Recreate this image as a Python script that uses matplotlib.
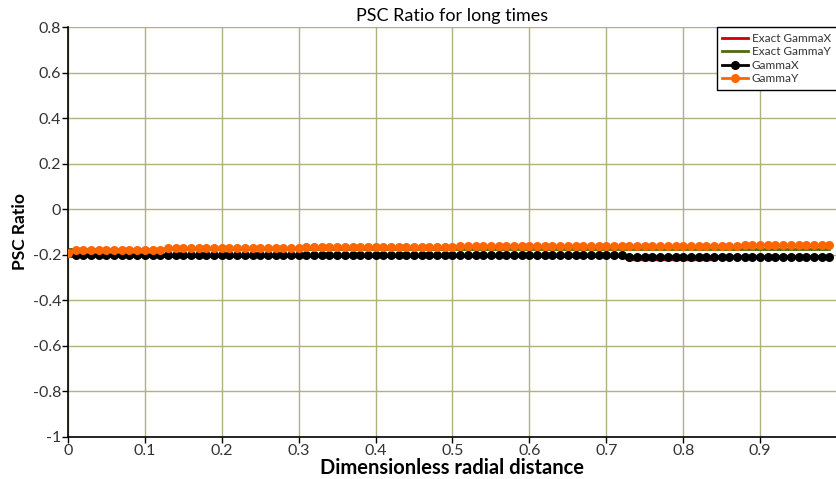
import numpy as np
import matplotlib
matplotlib.use('Agg')
import matplotlib.pyplot as plt

plt.rcParams['font.family'] = ['Lato', 'DejaVu Sans']

# radial positions (100 samples)
r = np.arange(100) / 100.0

gamma_y = ([-0.190] + [-0.178]*12 + [-0.172]*18 + [-0.166]*20
           + [-0.163]*37 + [-0.158]*12)
gamma_x = [np.nan] + [-0.203]*72 + [-0.210]*27
exact_x = [-0.208]*73 + [-0.222]*12 + [-0.210]*15
exact_y = [-0.176]*100

yticks = [0.8, 0.6, 0.4, 0.2, 0, -0.2, -0.4, -0.6, -0.8, -1]
xticks = [0, 0.1, 0.2, 0.3, 0.4, 0.5, 0.6, 0.7, 0.8, 0.9]

fig = plt.figure(figsize=(8.37, 4.79), dpi=100)
ax = fig.add_axes([0.0812, 0.0877, 0.9188, 0.8559])

grid_c = '#b0b080'
ax.plot(r, exact_x, color='#cc0000', lw=2, label='Exact GammaX', zorder=2)
ax.plot(r, exact_y, color='#4f6a10', lw=2, label='Exact GammaY', zorder=2)
ax.plot(r, gamma_x, color='black', lw=2, marker='o', ms=6.5, mew=0,
        label='GammaX', zorder=3)
ax.plot(r, gamma_y, color='#ff6600', lw=2, marker='o', ms=6.5, mew=0,
        label='GammaY', zorder=3)

ax.set_xlim(0, 1.0)
ax.set_ylim(-1, 0.8)
ax.set_xticks(xticks)
ax.set_xticklabels([f'{t:g}' for t in xticks])
ax.set_yticks(yticks)
ax.set_yticklabels([f'{t:g}' for t in yticks])
ax.tick_params(labelsize=11.5, colors='black', length=4, width=1,
               labelcolor='#333333', pad=1)

ax.grid(True, color=grid_c, lw=1)
ax.set_axisbelow(True)
for s in ['top', 'right']:
    ax.spines[s].set_visible(False)
for s in ['left', 'bottom']:
    ax.spines[s].set_linewidth(1.2)

ax.set_title('PSC Ratio for long times', fontsize=13, pad=4)
ax.set_xlabel('Dimensionless radial distance', fontsize=14.5,
              fontweight='bold', labelpad=0)
ax.set_ylabel('PSC Ratio', fontsize=12.5, fontweight='bold', labelpad=3)

leg = ax.legend(loc='upper right', fontsize=8.5, frameon=True, fancybox=False,
                borderaxespad=0, handlelength=2.2, handletextpad=0.3,
                labelspacing=0.2, borderpad=0.5, framealpha=1)
leg.get_frame().set_edgecolor('black')
leg.get_frame().set_linewidth(1)
for t in leg.get_texts():
    t.set_color('#333333')

fig.savefig('out.png', dpi=100)
